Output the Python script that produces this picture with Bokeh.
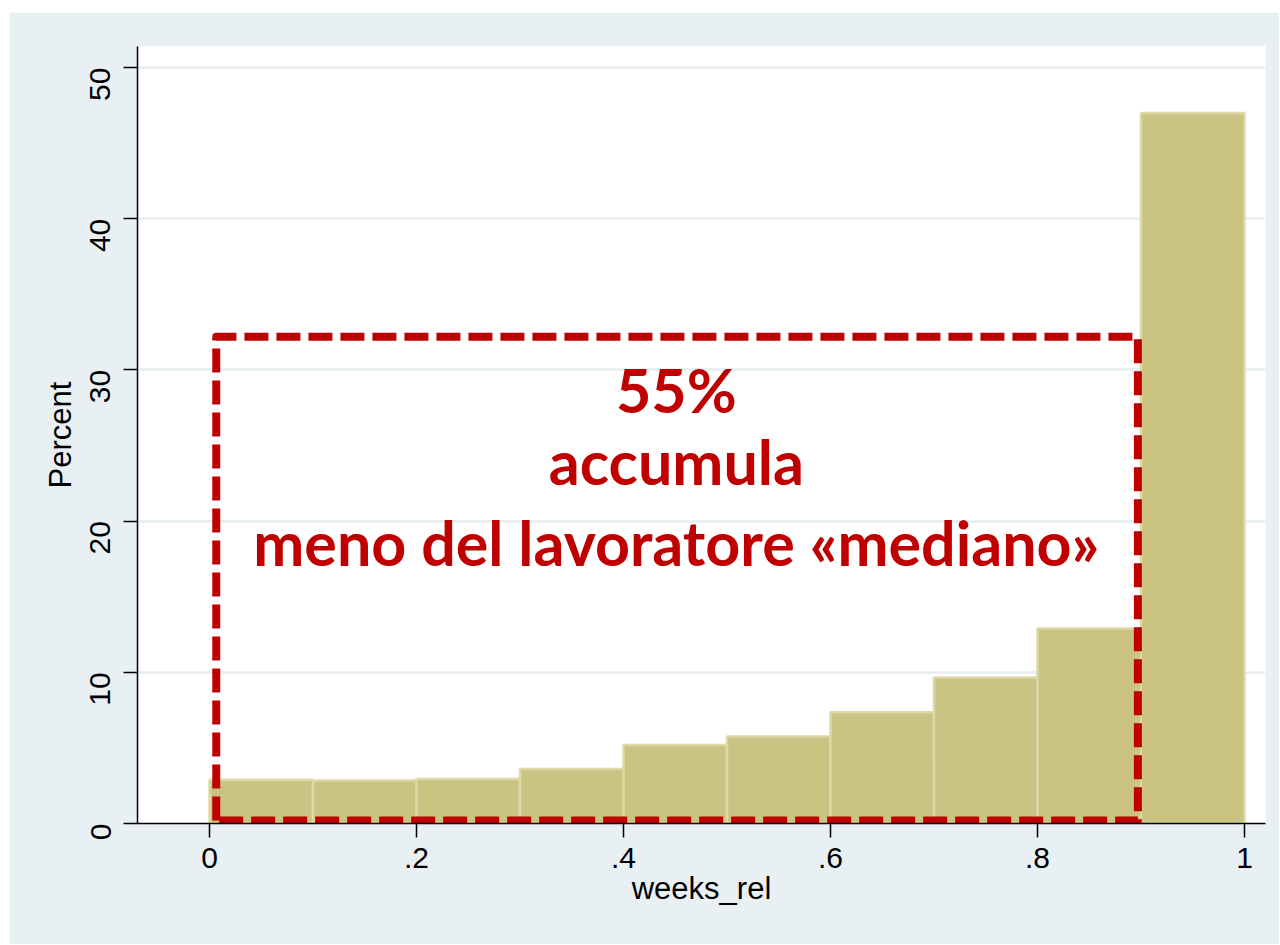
import math
from bokeh.plotting import figure
from bokeh.models import Range1d, FixedTicker, Label, Spacer
from bokeh.layouts import column, row
from bokeh.embed import file_html
from bokeh.resources import INLINE

# ---- data ----
bin_edges = [0.0, 0.1, 0.2, 0.3, 0.4, 0.5, 0.6, 0.7, 0.8, 0.9, 1.0]
percent = [2.9, 2.85, 2.95, 3.6, 5.2, 5.75, 7.35, 9.65, 12.9, 47.0]
x_ticks = [0, 0.2, 0.4, 0.6, 0.8, 1.0]
x_tick_labels = ["0", ".2", ".4", ".6", ".8", "1"]
y_ticks = [0, 10, 20, 30, 40, 50]
annot_lines = ["55%", "accumula", "meno del lavoratore «mediano»"]
annot_y = [28.69, 23.96, 18.58]
box_x = [0.0065, 0.897]
box_y = [0.2, 32.2]

BG = "#e9f0f3"
RED = "#c00000"

p = figure(width=1270, height=932, output_backend="svg", toolbar_location=None,
           x_range=Range1d(-0.0696, 1.0203), y_range=Range1d(0, 51.39),
           min_border_left=128, min_border_right=14, min_border_top=34, min_border_bottom=121)
p.border_fill_color = BG
p.background_fill_color = "white"
p.outline_line_color = None

p.quad(left=bin_edges[:-1], right=bin_edges[1:], bottom=0, top=percent,
       fill_color="#cbc382", line_color="#ddd8a6", line_width=2.5)

# dashed box
bx = [box_x[0], box_x[0], box_x[1], box_x[1], box_x[0]]
by = [box_y[0], box_y[1], box_y[1], box_y[0], box_y[0]]
p.line(bx, by, line_color=RED, line_width=8, line_dash="24 8", line_join="round")

for txt, yy in zip(annot_lines, annot_y):
    p.add_layout(Label(x=0.451, y=yy, text=txt, text_align="center", text_baseline="alphabetic",
                       text_font="Lato", text_font_style="bold", text_font_size="61px",
                       text_color=RED))

# axes
for ax in (p.xaxis[0], p.yaxis[0]):
    ax.axis_line_color = "black"
    ax.axis_line_width = 1.5
    ax.major_tick_line_color = "black"
    ax.major_tick_line_width = 1.5
    ax.major_tick_in = 0
    ax.major_tick_out = 14
    ax.minor_tick_line_color = None
    ax.major_label_text_font = "Liberation Sans"
    ax.major_label_text_font_size = "30px"
    ax.major_label_text_color = "black"
    ax.axis_label_text_font = "Liberation Sans"
    ax.axis_label_text_font_size = "31px"
    ax.axis_label_text_font_style = "normal"
    ax.axis_label_text_color = "black"

p.xaxis.ticker = FixedTicker(ticks=x_ticks)
p.xaxis.major_label_overrides = {t: l for t, l in zip(x_ticks, x_tick_labels)}
p.xaxis.axis_label = "weeks_rel"
p.xaxis.major_label_standoff = 10
p.xaxis.axis_label_standoff = 0

p.yaxis.ticker = FixedTicker(ticks=y_ticks)
p.yaxis.major_label_orientation = math.pi / 2
p.yaxis.axis_label = "Percent"
p.yaxis.major_label_standoff = 23
p.yaxis.axis_label_standoff = 0

p.xgrid.grid_line_color = None
p.ygrid.ticker = FixedTicker(ticks=y_ticks)
p.ygrid.grid_line_color = "#e6eef1"
p.ygrid.grid_line_width = 2.5

layout = row(Spacer(width=9, height=10), column(Spacer(height=12, width=10), p, spacing=0), spacing=0)
open("out.html", "w").write(file_html(layout, INLINE))
